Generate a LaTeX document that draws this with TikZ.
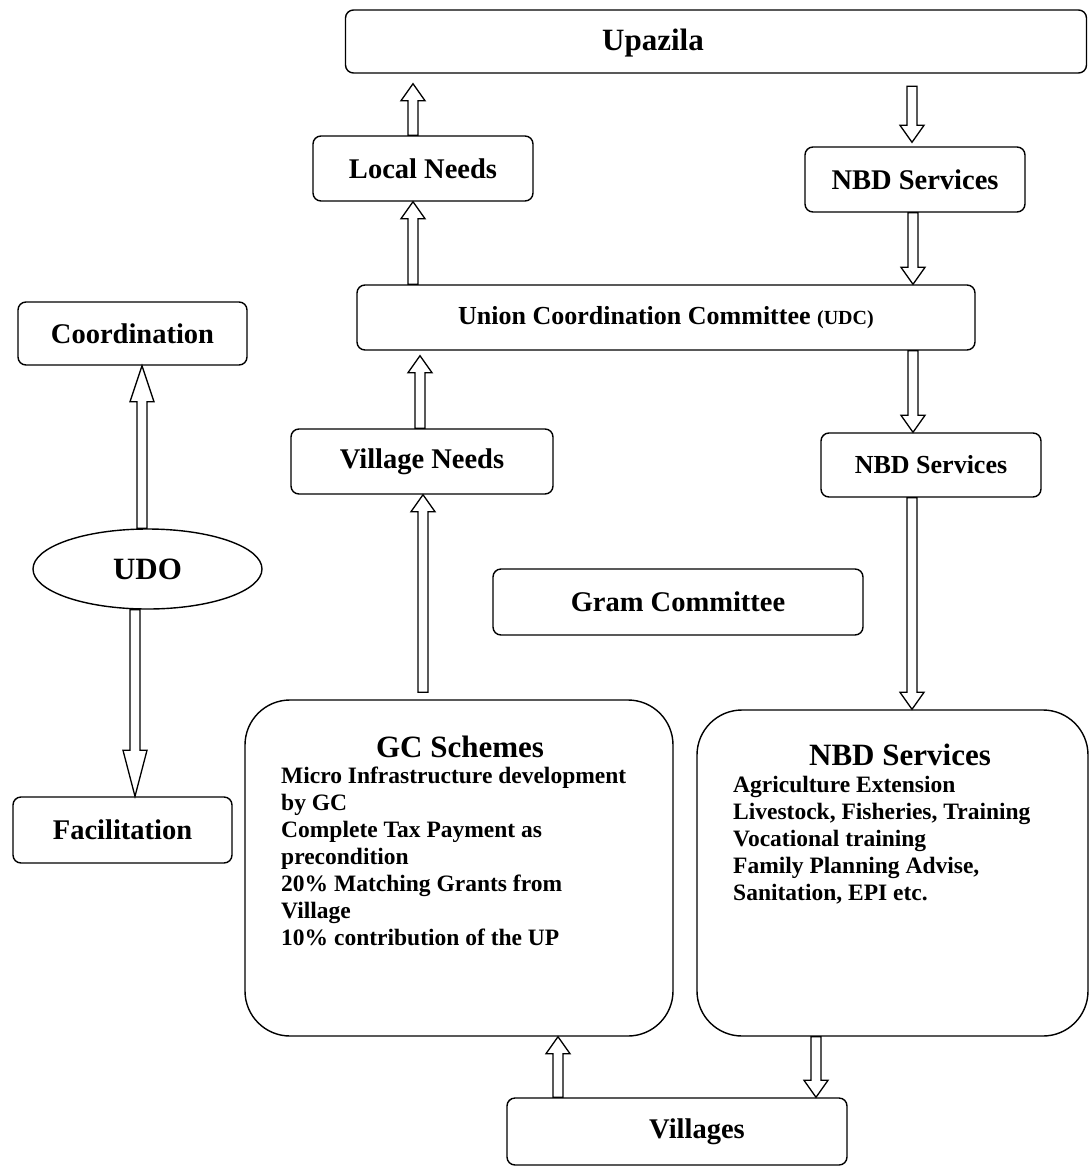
\documentclass[tikz,border=0pt]{standalone}
\usepackage{fontspec}
\setmainfont{Liberation Serif}
\usetikzlibrary{calc}
\usetikzlibrary{shapes.geometric}
\newcommand{\shaftw}{5pt}
\newcommand{\headw}{12pt}
\newcommand{\boxfont}{\fontsize{28.5}{32}\selectfont\bfseries}
\newcommand{\midfont}{\fontsize{26}{30}\selectfont\bfseries}
\newcommand{\titlefont}{\fontsize{31}{35}\selectfont\bfseries}
\newcommand{\bodyfont}{\fontsize{23.5}{27}\selectfont\bfseries}
\tikzset{
  box/.style={draw, line width=1.4pt, rounded corners=8pt, minimum height=65pt, inner sep=0pt},
  bigbox/.style={draw, line width=1.4pt, rounded corners=45pt, inner sep=0pt},
  hollow/.style={line width=1.3pt, line join=miter, to path={
    let \p1=(\tikztostart), \p2=(\tikztotarget),
        \n1={ifthenelse(\y2>\y1,1,-1)} in
    (\x1-\shaftw,\y1) -- (\x1-\shaftw,{\y2-(\n1)*#1}) -- (\x1-\headw,{\y2-(\n1)*#1})
    -- (\x1,\y2) -- (\x1+\headw,{\y2-(\n1)*#1}) -- (\x1+\shaftw,{\y2-(\n1)*#1})
    -- (\x1+\shaftw,\y1) -- cycle}},
  hollow/.default=17pt
}

\begin{document}
\begin{tikzpicture}[x=1pt, y=-1pt]
\useasboundingbox (0,0) rectangle (1091,1168);

% upper levels
\node[box, minimum width=741pt, minimum height=63pt] at (716,41.5) (UPZ) {};
\node[font=\titlefont] at (653,43) (UPZtext) {Upazila};
\node[box, minimum width=220pt, font=\boxfont] at (423,168.5) (LN) {Local Needs};
\node[box, minimum width=220pt, font=\boxfont] at (915,179.5) (NBD1) {NBD Services};
\node[box, minimum width=618pt, font=\midfont] at (666,317.5) (UDC) {Union Coordination Committee {\fontsize{20}{22}\selectfont (UDC)}};
\node[box, minimum width=262pt, font=\boxfont] at (422,461.5) (VN) {Village Needs};
\node[box, minimum width=220pt, minimum height=64pt, font=\midfont] at (931,465) (NBD2) {NBD Services};
\node[box, minimum width=370pt, minimum height=66pt, font=\boxfont] at (678,602) (GRAM) {Gram Committee};

% left column
\node[box, minimum width=229pt, minimum height=63pt, font=\boxfont] at (132.5,333.5) (COORD) {Coordination};
\node[draw, ellipse, line width=1.4pt, minimum width=229pt, minimum height=80pt, inner sep=0pt, font=\titlefont] at (147.5,569) (UDO) {UDO};
\node[box, minimum width=219pt, minimum height=66pt, font=\boxfont] at (122.5,830) (FAC) {Facilitation};

% schemes and services
\node[bigbox, minimum width=428pt, minimum height=336pt] at (459,868) (GC) {};
\node[font=\titlefont] at (460,747) (GCtitle) {GC Schemes};
\node[anchor=north west, align=left, inner sep=0pt, font=\bodyfont] at (281,767) (GCtext) {Micro Infrastructure development\\by GC\\Complete Tax Payment as\\precondition\\20\% Matching Grants from\\Village\\10\% contribution of the UP};
\node[bigbox, minimum width=391pt, minimum height=326pt] at (892.5,873) (NBD3) {};
\node[font=\titlefont] at (900,755) (NBDtitle) {NBD Services};
\node[anchor=north west, align=left, inner sep=0pt, font=\bodyfont] at (733,776) (NBDtext) {Agriculture Extension\\Livestock, Fisheries, Training\\Vocational training\\Family Planning Advise,\\Sanitation, EPI etc.};

\node[box, minimum width=340pt, minimum height=67pt] at (677,1131.5) (VIL) {};
\node[font=\boxfont] at (697,1132) (VILtext) {Villages};

% arrows
\draw[hollow] ([xshift=-10pt]LN.north) to ([yshift=-10pt]UPZ.south);
\draw[hollow] ([xshift=-3pt,yshift=60pt]NBD1.north) to ([yshift=4pt]NBD1.north);
\draw[hollow] ([xshift=-253pt]UDC.north) to (LN.south);
\draw[hollow] ([xshift=-2pt]NBD1.south) to (UDC.north);
\draw[hollow] ([xshift=-2pt]VN.north) to ([yshift=-5pt]UDC.south);
\draw[hollow] ([xshift=247pt]UDC.south) to (NBD2.north);
\draw[hollow] ([xshift=-36pt,yshift=7pt]GC.north) to (VN.south);
\draw[hollow] ([xshift=-19pt]NBD2.south) to (NBD3.north);
\draw[hollow=36pt] ([xshift=-5.5pt]UDO.north) to (COORD.south);
\draw[hollow=46pt] ([xshift=-12.5pt]UDO.south) to (FAC.north);
\draw[hollow] ([xshift=-119pt]VIL.north) to (GC.south);
\draw[hollow] ([xshift=-76.5pt]NBD3.south) to (VIL.north);
\end{tikzpicture}
\end{document}
